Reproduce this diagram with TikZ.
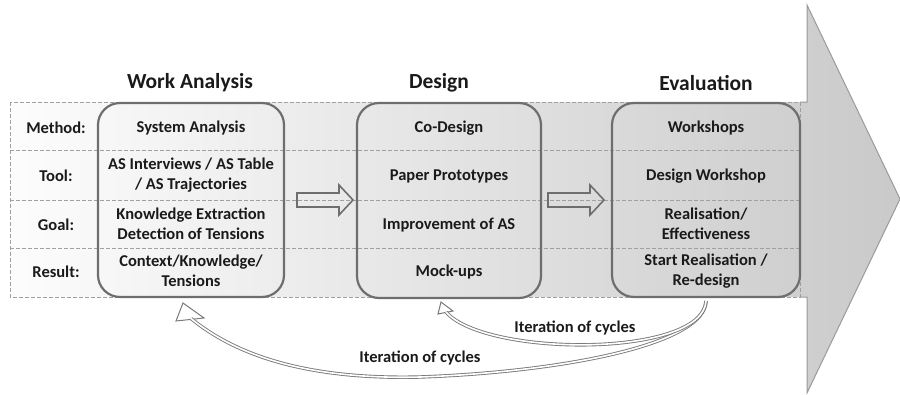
\documentclass[tikz,border=0pt]{standalone}
\usepackage{fontspec}
\setmainfont{Carlito}
\definecolor{txt}{HTML}{1A1A1A}
\definecolor{boxline}{HTML}{6E6E6E}
\definecolor{dashline}{HTML}{A0A0A0}
\definecolor{headline}{HTML}{9A9A9A}
\definecolor{itline}{HTML}{7A7A7A}
\tikzset{
  cell/.style={font=\fontsize{16.5}{19.5}\selectfont\bfseries, text=txt, align=center, inner sep=0pt},
  rowlabel/.style={font=\fontsize{16.5}{19.5}\selectfont\bfseries, text=txt, inner sep=0pt},
  header/.style={font=\fontsize{21.5}{25}\selectfont\bfseries, text=txt, inner sep=0pt},
  phasebox/.style={draw=boxline, line width=2.2pt, rounded corners=22pt, inner sep=0pt},
  tabline/.style={draw=dashline, line width=0.9pt, dash pattern=on 4pt off 2pt},
  stepper/.style={draw=boxline, line width=1.6pt, line join=miter},
  iter/.style={draw=itline, double=white, double distance=1.6pt, line width=0.9pt},
  iterhead/.style={draw=itline, fill=white, line width=1pt, line join=miter},
  itlabel/.style={font=\fontsize{16.5}{19.5}\selectfont\bfseries, text=txt, inner sep=0pt}
}
\begin{document}
\begin{tikzpicture}[x=1pt,y=-1pt]
\useasboundingbox (0,0) rectangle (900,394);
% big arrow background
\shade[left color=black!1, right color=black!21]
  (10,102) -- (807,102) -- (807,5) -- (900,199) -- (807,393) -- (807,297) -- (10,297) -- cycle;
\draw[headline, line width=1pt] (800,102) -- (807,102) -- (807,5) -- (900,199) -- (807,393) -- (807,297) -- (800,297);
% table
\draw[tabline] (10,102) rectangle (800,297);
\draw[tabline] (10,150) -- (800,150);
\draw[tabline] (10,200) -- (800,200);
\draw[tabline] (10,248) -- (800,248);
% headers
\node[header] (hwa) at (190,83) {Work Analysis};
\node[header] (hd) at (439,83) {Design};
\node[header] (hev) at (706,83) {Evaluation};
% row labels
\node[rowlabel] (lm) at (56,128) {Method:};
\node[rowlabel] (lt) at (56,176) {Tool:};
\node[rowlabel] (lg) at (56,225) {Goal:};
\node[rowlabel] (lr) at (56,272) {Result:};
% phase boxes
\node[phasebox, minimum width=186pt, minimum height=194pt] (b1) at (191,200) {};
\node[phasebox, minimum width=184pt, minimum height=195pt] (b2) at (449,200.5) {};
\node[phasebox, minimum width=188pt, minimum height=194pt] (b3) at (706,200) {};
% box 1 cells
\node[cell] (c11) at (191,128) {System Analysis};
\node[cell] (c12) at (191,175) {AS Interviews / AS Table\\/ AS Trajectories};
\node[cell] (c13) at (191,224) {Knowledge Extraction\\Detection of Tensions};
\node[cell] (c14) at (191,271) {Context/Knowledge/\\Tensions};
% box 2 cells
\node[cell] (c21) at (449,128) {Co-Design};
\node[cell] (c22) at (449,176) {Paper Prototypes};
\node[cell] (c23) at (449,225) {Improvement of AS};
\node[cell] (c24) at (449,272) {Mock-ups};
% box 3 cells
\node[cell] (c31) at (706,128) {Workshops};
\node[cell] (c32) at (706,176) {Design Workshop};
\node[cell] (c33) at (706,224) {Realisation/\\Effectiveness};
\node[cell] (c34) at (706,271) {Start Realisation /\\Re-design};
% block arrows between boxes
\draw[stepper] (297,193) -- (339,193) -- (339,185) -- (353,200) -- (339,215) -- (339,207) -- (297,207) -- cycle;
\draw[stepper] (548,193) -- (590,193) -- (590,185) -- (604,200) -- (590,215) -- (590,207) -- (548,207) -- cycle;
% iteration arrows
\coordinate (s) at (706,301);
\draw[iterhead] (183,303) -- (176,321) -- (204,318) -- cycle;
\draw[iter] (s) .. controls (705,345) and (560,372) .. (420,377)
  .. controls (300,380) and (232,352) .. (191,318.5);
\draw[iterhead] (441,302) -- (438,314) -- (453,311) -- cycle;
\draw[iter] (s) .. controls (703,358) and (485,357) .. (446,312);
\node[itlabel] (it1) at (575,328) {Iteration of cycles};
\node[itlabel] (it2) at (420,358) {Iteration of cycles};
\end{tikzpicture}
\end{document}
